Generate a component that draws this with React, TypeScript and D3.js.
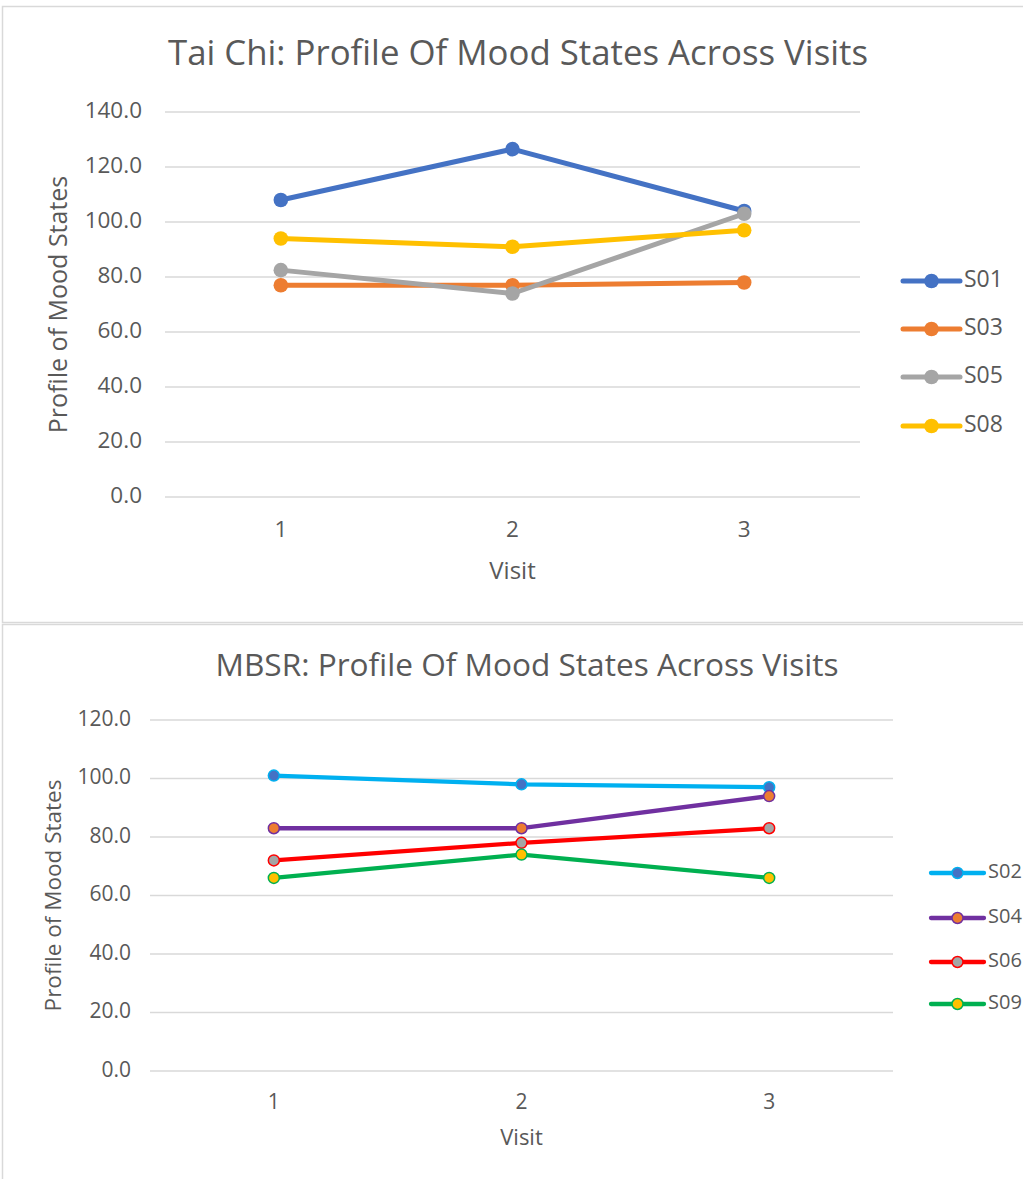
import React from "react";
import * as d3 from "d3";

const visits = [1, 2, 3];

const taiChiSeries = ["S01", "S03", "S05", "S08"];
const taiChiValues = [
  [108, 126.5, 104],
  [77, 77, 78],
  [82.5, 74, 103],
  [94, 91, 97],
];
const taiChiLineColors = ["#4472C4", "#ED7D31", "#A5A5A5", "#FFC000"];
const taiChiMarkerColors = ["#4472C4", "#ED7D31", "#A5A5A5", "#FFC000"];
const taiChiTicks = [0, 20, 40, 60, 80, 100, 120, 140];

const mbsrSeries = ["S02", "S04", "S06", "S09"];
const mbsrValues = [
  [101, 98, 97],
  [83, 83, 94],
  [72, 78, 83],
  [66, 74, 66],
];
const mbsrLineColors = ["#00B0F0", "#7030A0", "#FF0000", "#00B050"];
const mbsrMarkerColors = ["#4472C4", "#ED7D31", "#A5A5A5", "#FFC000"];
const mbsrTicks = [0, 20, 40, 60, 80, 100, 120];

const FONT = "'Open Sans', 'Noto Sans', sans-serif";
const TXT = "#595959";

type PanelProps = {
  title: string;
  series: string[];
  values: number[][];
  lineColors: string[];
  markerColors: string[];
  ticks: number[];
  left: number;
  right: number;
  y0: number;
  yTop: number;
  titleX: number;
  titleY: number;
  titleSize: number;
  titleLen: number;
  yTitleX: number;
  yTitleSize: number;
  tickSize: number;
  tickLabelX: number;
  xTickY: number;
  xTitleY: number;
  xTitleSize: number;
  legendX1: number;
  legendX2: number;
  legendTextX: number;
  legendSize: number;
  legendYs: number[];
  lineW: number;
  r: number;
  markerStroke: boolean;
};

function Panel(p: PanelProps) {
  const maxT = p.ticks[p.ticks.length - 1];
  const y = d3.scaleLinear().domain([0, maxT]).range([p.y0, p.yTop]);
  const x = d3.scaleBand<number>().domain(visits).range([p.left, p.right]);
  const cx = (v: number) => (x(v) as number) + x.bandwidth() / 2;
  const line = d3
    .line<number>()
    .x((_, i) => cx(visits[i]))
    .y((d) => y(d));
  return (
    <g>
      <text
        x={p.titleX}
        y={p.titleY}
        textAnchor="middle"
        dominantBaseline="middle"
        fontSize={p.titleSize}
        fill={TXT}
        fontFamily={FONT}
        textLength={p.titleLen}
        lengthAdjust="spacingAndGlyphs"
      >
        {p.title}
      </text>
      {p.ticks.map((t) => (
        <g key={t}>
          <line x1={p.left} x2={p.right} y1={y(t)} y2={y(t)} stroke="#D9D9D9" strokeWidth={1.3} />
          <text x={p.tickLabelX} y={y(t)} textAnchor="end" dominantBaseline="middle" fontSize={p.tickSize} fill={TXT} fontFamily={FONT}>
            {t.toFixed(1)}
          </text>
        </g>
      ))}
      {visits.map((v) => (
        <text key={v} x={cx(v)} y={p.xTickY} textAnchor="middle" dominantBaseline="middle" fontSize={p.tickSize} fill={TXT} fontFamily={FONT}>
          {v}
        </text>
      ))}
      <text x={(p.left + p.right) / 2} y={p.xTitleY} textAnchor="middle" dominantBaseline="middle" fontSize={p.xTitleSize} fill={TXT} fontFamily={FONT}>
        Visit
      </text>
      <text
        transform={`translate(${p.yTitleX},${(p.y0 + p.yTop) / 2}) rotate(-90)`}
        textAnchor="middle"
        dominantBaseline="middle"
        fontSize={p.yTitleSize}
        fill={TXT}
        fontFamily={FONT}
      >
        Profile of Mood States
      </text>
      {p.series.map((s, i) => (
        <g key={s}>
          <path d={line(p.values[i]) || ""} fill="none" stroke={p.lineColors[i]} strokeWidth={p.lineW} strokeLinejoin="round" strokeLinecap="round" />
          {p.values[i].map((v, j) => (
            <circle
              key={j}
              cx={cx(visits[j])}
              cy={y(v)}
              r={p.r}
              fill={p.markerColors[i]}
              stroke={p.markerStroke ? p.lineColors[i] : "none"}
              strokeWidth={p.markerStroke ? 1.5 : 0}
            />
          ))}
        </g>
      ))}
      {p.series.map((s, i) => (
        <g key={"lg" + s}>
          <line x1={p.legendX1} x2={p.legendX2} y1={p.legendYs[i]} y2={p.legendYs[i]} stroke={p.lineColors[i]} strokeWidth={p.lineW} strokeLinecap="round" />
          <circle
            cx={(p.legendX1 + p.legendX2) / 2}
            cy={p.legendYs[i]}
            r={p.r}
            fill={p.markerColors[i]}
            stroke={p.markerStroke ? p.lineColors[i] : "none"}
            strokeWidth={p.markerStroke ? 1.5 : 0}
          />
          <text x={p.legendTextX} y={p.legendYs[i]} dominantBaseline="middle" fontSize={p.legendSize} fill={TXT} fontFamily={FONT}>
            {s}
          </text>
        </g>
      ))}
    </g>
  );
}

export default function App() {
  return (
    <svg width={1023} height={1179} style={{ position: "absolute", left: 0, top: 0, background: "#fff" }}>
      <rect x={0} y={0} width={1023} height={1179} fill="#fff" />
      <rect x={2.5} y={6.5} width={1030} height={616} fill="none" stroke="#D9D9D9" strokeWidth={1.5} />
      <rect x={2.5} y={624.5} width={1030} height={600} fill="none" stroke="#D9D9D9" strokeWidth={1.5} />
      <Panel
        title="Tai Chi: Profile Of Mood States Across Visits"
        series={taiChiSeries}
        values={taiChiValues}
        lineColors={taiChiLineColors}
        markerColors={taiChiMarkerColors}
        ticks={taiChiTicks}
        left={165}
        right={860}
        y0={497}
        yTop={112}
        titleX={518}
        titleY={56}
        titleSize={34}
        titleLen={700}
        yTitleX={60}
        yTitleSize={25}
        tickSize={22.5}
        tickLabelX={142}
        xTickY={531}
        xTitleY={573}
        xTitleSize={24}
        legendX1={903}
        legendX2={960}
        legendTextX={964}
        legendSize={23}
        legendYs={[281, 329, 377, 426]}
        lineW={5}
        r={7.3}
        markerStroke={false}
      />
      <Panel
        title="MBSR: Profile Of Mood States Across Visits"
        series={mbsrSeries}
        values={mbsrValues}
        lineColors={mbsrLineColors}
        markerColors={mbsrMarkerColors}
        ticks={mbsrTicks}
        left={150}
        right={893}
        y0={1071}
        yTop={720}
        titleX={527}
        titleY={668}
        titleSize={31}
        titleLen={623}
        yTitleX={55}
        yTitleSize={22.5}
        tickSize={21}
        tickLabelX={131}
        xTickY={1103}
        xTitleY={1139}
        xTitleSize={22}
        legendX1={931}
        legendX2={984}
        legendTextX={988}
        legendSize={20}
        legendYs={[873, 918, 962, 1004]}
        lineW={4.3}
        r={5.5}
        markerStroke={true}
      />
    </svg>
  );
}
